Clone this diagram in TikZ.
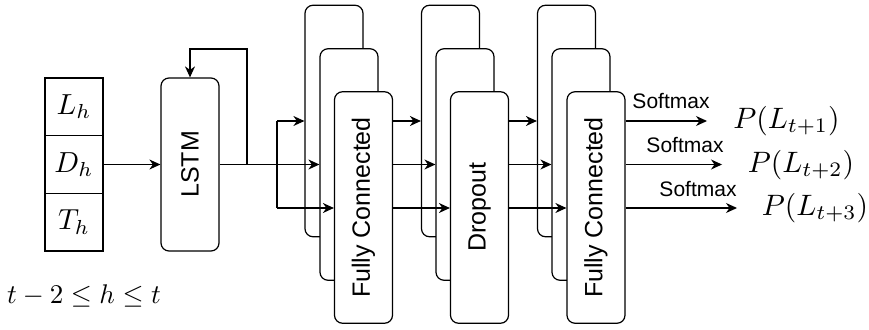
\documentclass[tikz,border=0pt]{standalone}
\usepackage{fontspec}
\setsansfont{Liberation Sans}
\usetikzlibrary{arrows.meta}
\newcommand{\bigmath}[2]{\scalebox{#1}{$#2$}}
\begin{document}
\begin{tikzpicture}[x=1pt,y=-1pt,
  line width=1.2pt,
  arr/.style={-{Stealth[length=11pt,width=10pt,inset=3.5pt]}},
  cell/.style={draw,minimum width=58pt,minimum height=57.7pt,inner sep=0pt},
  layerbox/.style={draw,fill=white,rounded corners=8pt,minimum width=58pt,
    minimum height=231.5pt,inner sep=0pt},
  lbl/.style={rotate=90,font=\sffamily\fontsize{25}{30}\selectfont,inner sep=0pt},
  smx/.style={font=\sffamily\fontsize{21}{25}\selectfont,inner sep=0pt},
  prob/.style={inner sep=0pt}]
\useasboundingbox (0,0) rectangle (869,329);

% input features
\node[cell] (Lh) at (74,106.8) {\bigmath{2.9}{L_h}};
\node[cell] (Dh) at (74,164.5) {\bigmath{2.9}{D_h}};
\node[cell] (Th) at (74,222.2) {\bigmath{2.9}{T_h}};
\node[prob] (range) at (84,296) {\bigmath{2.7}{t-2\leq h\leq t}};

% recurrent layer
\node[layerbox,minimum height=173pt] (lstm) at (190,164.5) {};
\node[lbl] (lstmtxt) at (lstm.center) {LSTM};

% row levels
\coordinate (r1) at (0,121);
\coordinate (r2) at (0,164.5);
\coordinate (r3) at (0,208);

% first fully connected stack
\node[layerbox] (fcB) at (334,121) {};
\node[layerbox] (fcM) at (349,164.5) {};
\node[layerbox] (fcF) at (363.5,207.5) {};
\node[lbl] (fctxt) at (fcF.center) {Fully Connected};

% dropout stack
\node[layerbox] (doB) at (450.5,121) {};
\node[layerbox] (doM) at (465,164.5) {};
\node[layerbox] (doF) at (479.5,207.5) {};
\node[lbl] (dotxt) at (doF.center) {Dropout};

% output fully connected stack
\node[layerbox] (ouB) at (566.5,121) {};
\node[layerbox] (ouM) at (581,164.5) {};
\node[layerbox] (ouF) at (596,207.5) {};
\node[lbl] (outxt) at (ouF.center) {Fully Connected};

% input to LSTM
\draw[arr] (Dh.east) -- (lstm.west);

% recurrent loop
\coordinate (fb) at (247,164.5);
\coordinate (loop) at (247,49);
\draw[arr] (fb) -- (loop) -| (lstm.north);

% LSTM fan-out
\coordinate (j) at (277,164.5);
\draw[arr] (lstm.east) -- (fcM.west);
\draw (j |- r1) -- (j |- r3);
\draw[arr] (j |- r1) -- (fcB.west |- r1);
\draw[arr] (j |- r3) -- (fcF.west |- r3);

% fully connected to dropout
\draw[arr] (fcF.east |- r1) -- (doB.west |- r1);
\draw[arr] (fcF.east |- r2) -- (doM.west |- r2);
\draw[arr] (fcF.east |- r3) -- (doF.west |- r3);

% dropout to output layer
\draw[arr] (doF.east |- r1) -- (ouB.west |- r1);
\draw[arr] (doF.east |- r2) -- (ouM.west |- r2);
\draw[arr] (doF.east |- r3) -- (ouF.west |- r3);

% softmax outputs
\coordinate (o1) at (707,121);
\coordinate (o2) at (722,164.5);
\coordinate (o3) at (737,208);
\draw[arr] (ouF.east |- r1) -- (o1);
\draw[arr] (ouF.east |- r2) -- (o2);
\draw[arr] (ouF.east |- r3) -- (o3);
\node[smx] (s1) at (671,101) {Softmax};
\node[smx] (s2) at (685,145) {Softmax};
\node[smx] (s3) at (698,189) {Softmax};
\node[prob] (p1) at (786.5,121) {\bigmath{2.95}{P(L_{t+1})}};
\node[prob] (p2) at (801,165) {\bigmath{2.95}{P(L_{t+2})}};
\node[prob] (p3) at (815,208) {\bigmath{2.95}{P(L_{t+3})}};
\end{tikzpicture}
\end{document}
